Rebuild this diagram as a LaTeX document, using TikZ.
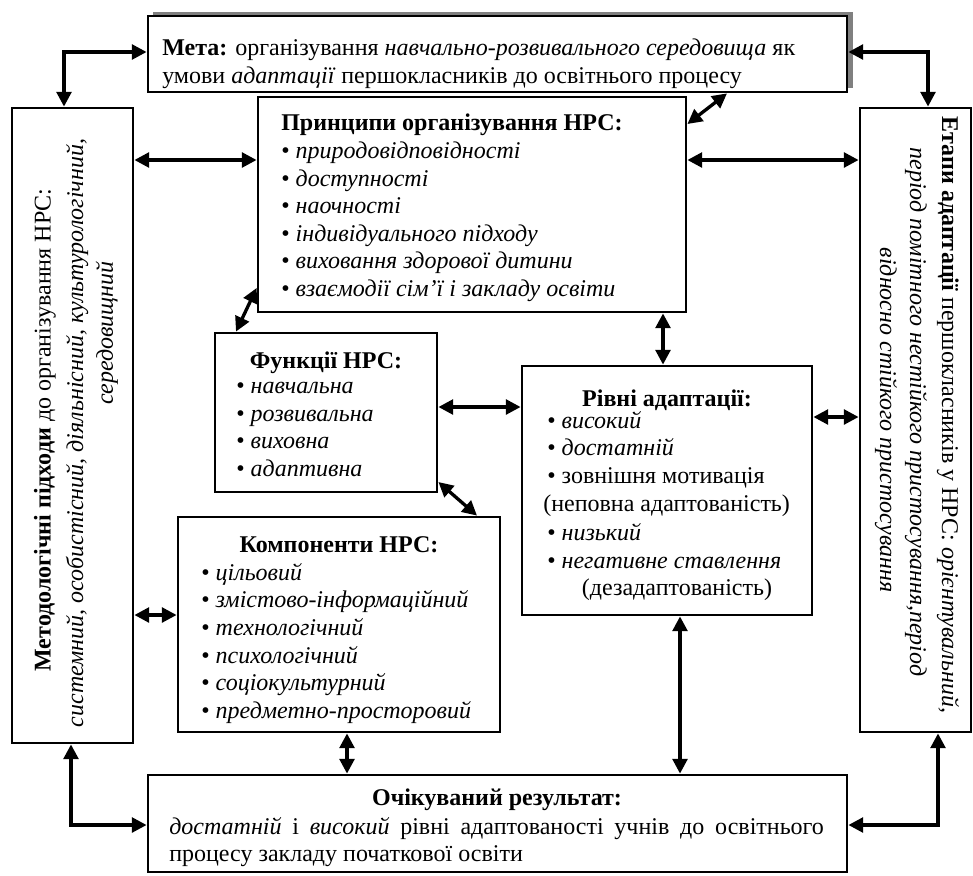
\documentclass[tikz,border=0pt]{standalone}
\usepackage{fontspec}
\setmainfont{Liberation Serif}
\usetikzlibrary{arrows.meta,fit,calc}
\begin{document}
\begin{tikzpicture}[x=0.75pt,y=-0.75pt,
  box/.style={draw, line width=2.1pt, inner sep=0pt, fill=white},
  dbl/.style={line width=2.5pt, {Triangle[length=11pt,width=11pt]}-{Triangle[length=11pt,width=11pt]}},
  txt/.style={inner sep=0pt, font=\fontsize{18}{20.7}\selectfont, align=left},
  ttl/.style={inner sep=0pt, font=\fontsize{18}{20.7}\selectfont\bfseries},
]
\useasboundingbox (0,0) rectangle (973,875);
% shadow of the goal box
\fill[black!50] (153,12) rectangle (853,88);
% boxes
\node[box, fit={(148,16) (847,92)}] (meta) {};
\node[box, fit={(12,108) (133,743)}] (L) {};
\node[box, fit={(860,108) (971,732)}] (E) {};
\node[box, fit={(258,97) (686,312)}] (P) {};
\node[box, fit={(215,333) (437,492)}] (F) {};
\node[box, fit={(522,366) (812,615)}] (R) {};
\node[box, fit={(178,517) (500,732)}] (C) {};
\node[box, fit={(148,775) (847,872)}] (O) {};
% texts
\node[txt, anchor=north west] (metat) at (162,39) {{\bfseries Мета:} організування \textit{навчально-розвивального середовища} як\\умови \textit{адаптації} першокласників до освітнього процесу};
\node[txt, anchor=north west] (pt) at (281,114) {{\bfseries Принципи організування НРС:}\\• \textit{природовідповідності}\\• \textit{доступності}\\• \textit{наочності}\\• \textit{індивідуального підходу}\\• \textit{виховання здорової дитини}\\• \textit{взаємодії сім’ї і закладу освіти}};
\node[ttl] (ftt) at (326,363) {Функції НРС:};
\node[txt, anchor=north west] (ft) at (236,382) {• \textit{навчальна}\\• \textit{розвивальна}\\• \textit{виховна}\\• \textit{адаптивна}};
\node[ttl] (rtt) at (667,400) {Рівні адаптації:};
\node[txt, anchor=north west] (rt) at (543,411) {\,• \textit{високий}\\\,• \textit{достатній}\\\,• зовнішня мотивація\\(неповна адаптованість)\\[1.5pt]\,• \textit{низький}\\\,• \textit{негативне ставлення}\\\hspace*{29pt}(дезадаптованість)};
\node[ttl] (ctt) at (339,545) {Компоненти НРС:};
\node[txt, anchor=north west] (ct) at (201,563) {• \textit{цільовий}\\• \textit{змістово-інформаційний}\\• \textit{технологічний}\\• \textit{психологічний}\\• \textit{соціокультурний}\\• \textit{предметно-просторовий}};
\node[ttl] (ott) at (497,800) {Очікуваний результат:};
\node[txt, anchor=north west] (ot) at (169,817) {\makebox[491pt][s]{\textit{достатній} і \textit{високий} рівні адаптованості учнів до освітнього}\\процесу закладу початкової освіти};
\node[txt, rotate=90] (lt1) at (45,430) {{\bfseries Методологічні підходи} до організування НРС:};
\node[txt, rotate=90] (lt2) at (77,433) {\textit{системний, особистісний, діяльнісний, культурологічний,}};
\node[txt, rotate=90] (lt3) at (107,333) {\textit{середовищний}};
\node[txt, rotate=-90] (et1) at (948,415) {{\bfseries Етапи адаптації} першокласників у НРС: \textit{орієнтувальний,}};
\node[txt, rotate=-90] (et2) at (916,412) {\textit{період помітного нестійкого пристосування,період}};
\node[txt, rotate=-90] (et3) at (886,420) {\textit{відносно стійкого пристосування}};
% connectors
\draw[dbl] (meta.west |- 0,52) -| (L.north -| 64,0);
\draw[dbl] (meta.east |- 0,52) -| (E.north -| 928,0);
\draw[dbl] (L.east |- 0,160) -- (P.west |- 0,160);
\draw[dbl] (P.east |- 0,160) -- (E.west |- 0,160);
\draw[dbl] (P.east |- 0,124) -- (meta.south -| 727,0);
\draw[dbl] (P.west |- 0,288) -- (F.north -| 236,0);
\draw[dbl] (P.south -| 663,0) -- (R.north -| 663,0);
\draw[dbl] (F.east |- 0,407) -- (R.west |- 0,407);
\draw[dbl] (F.east |- 0,482) -- (C.north -| 477,0);
\draw[dbl] (R.east |- 0,417) -- (E.west |- 0,417);
\draw[dbl] (L.east |- 0,615) -- (C.west |- 0,615);
\draw[dbl] (C.south -| 347,0) -- (O.north -| 347,0);
\draw[dbl] (R.south -| 680,0) -- (O.north -| 680,0);
\draw[dbl] (L.south -| 71,0) |- (O.west |- 0,825);
\draw[dbl] (E.south -| 938,0) |- (O.east |- 0,825);
\end{tikzpicture}
\end{document}
